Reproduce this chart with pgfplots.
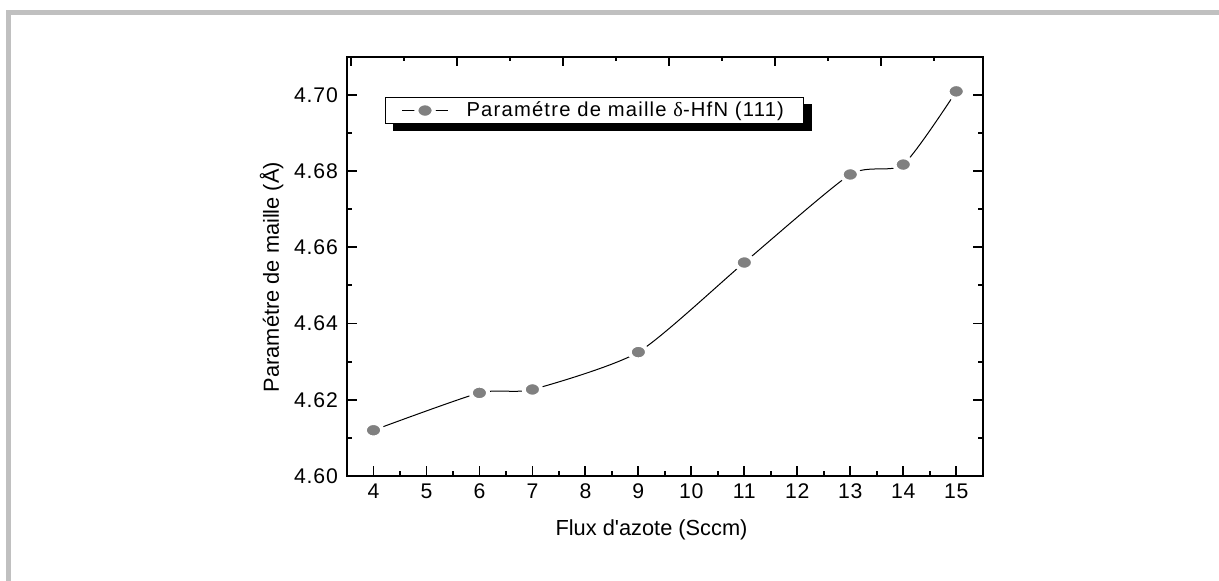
\documentclass[border=0pt]{standalone}
\usepackage{fontspec}
\setmainfont{Liberation Sans}
\newfontfamily\greekfont{Liberation Serif}
\newfontfamily\tickspaced[LetterSpace=4]{Liberation Sans}
\newfontfamily\legspaced[LetterSpace=6]{Liberation Sans}
\usepackage{pgfplots}
\pgfplotsset{compat=1.18}
\definecolor{framegray}{HTML}{C0C0C0}
\definecolor{markgray}{HTML}{808080}

\newcommand\tickfont{\tickspaced\fontsize{10.6}{12}\selectfont}
\newcommand\labelfont{\fontsize{10.9}{12}\selectfont}
\newcommand\legfont{\legspaced\fontsize{10.1}{11}\selectfont}
% straight apostrophe, taken as a glyph so that it is not turned into a curly quote
\newcommand\straightquote{\XeTeXglyph\XeTeXglyphindex "quotesingle"\relax}

\begin{document}
\begin{tikzpicture}
\useasboundingbox (0,0) rectangle (609.5pt,290.5pt);
% light grey page frame (top and left edges)
\fill[framegray] (3pt,0pt) rectangle (5.5pt,285.5pt);
\fill[framegray] (3pt,283pt) rectangle (609.5pt,285.5pt);

\begin{axis}[
  at={(173.5pt,52.5pt)}, anchor=south west,
  scale only axis, width=317.85pt, height=209.65pt,
  xmin=3.5, xmax=15.5, ymin=4.60, ymax=4.71,
  xtick={4,...,15}, minor xtick={4.5,5.5,...,14.5},
  ytick={4.60,4.62,...,4.70}, minor ytick={4.61,4.63,...,4.69},
  xtick pos=bottom, ytick pos=both,
  tick align=inside,
  major tick length=4.8pt, minor tick length=2.3pt,
  every tick/.style={black, line width=0.9pt},
  axis line style={line width=1pt},
  /pgf/number format/assume math mode=true,
  y tick label style={/pgf/number format/fixed, /pgf/number format/fixed zerofill, /pgf/number format/precision=2},
  ticklabel style={font=\tickfont},
  xticklabel style={yshift=-0.5pt},
  yticklabel style={xshift=-1pt},
  xlabel={Flux d\straightquote azote (Sccm)},
  ylabel={Paramétre de maille (Å)},
  label style={font=\labelfont},
  xlabel style={at={(axis description cs:0.479,-0.129)}, anchor=center},
  ylabel style={at={(axis description cs:-0.1185,0.4746)}, anchor=center},
  legend style={name=leg, at={(0.0598,0.9046)}, anchor=north west,
    draw=black, line width=0.5pt, fill=white,
    font=\legfont, inner xsep=8pt, inner ysep=0pt,
    nodes={inner ysep=2.2pt}},
  legend cell align=left,
  legend image code/.code={%
    \draw[black, line width=0.5pt] (0pt,0pt) -- (23pt,0pt);
    \path[#1] plot coordinates {(11.5pt,0pt)};},
]
\addplot[black, line width=0.5pt, smooth, tension=0.38,
  mark=*, mark size=3.65pt,
  mark options={fill=markgray, draw=white, line width=2pt, xscale=1.19}]
  coordinates {
  (4,4.6120) (6,4.6218) (7,4.6227) (9,4.6325)
  (11,4.6560) (13,4.6791) (14,4.6817) (15,4.7009)
};
\addlegendentry{\hspace{7pt}Paramétre de maille {\greekfont δ}-HfN (111)\hspace{2pt}}
\end{axis}

% solid black shadow along the lower and right edges of the legend box
\fill[black] ([xshift=4pt]leg.south west) rectangle ([xshift=4pt,yshift=-3.5pt]leg.south east);
\fill[black] (leg.south east) rectangle ([xshift=4pt,yshift=-3.5pt]leg.north east);

% top axis ticks
\begin{axis}[
  at={(173.5pt,52.5pt)}, anchor=south west,
  scale only axis, width=317.85pt, height=209.65pt,
  xmin=3.5, xmax=15.5, ymin=0, ymax=1,
  axis line style={draw=none},
  xtick pos=top, tick align=inside,
  xtick={3.58,5.58,...,13.58}, minor xtick={4.58,6.58,...,14.58},
  xticklabels={}, ytick=\empty,
  major tick length=4.5pt, minor tick length=2.2pt,
  every tick/.style={black, line width=0.9pt},
]
\addplot[draw=none] coordinates {(4,0.5)};
\end{axis}
\end{tikzpicture}
\end{document}
